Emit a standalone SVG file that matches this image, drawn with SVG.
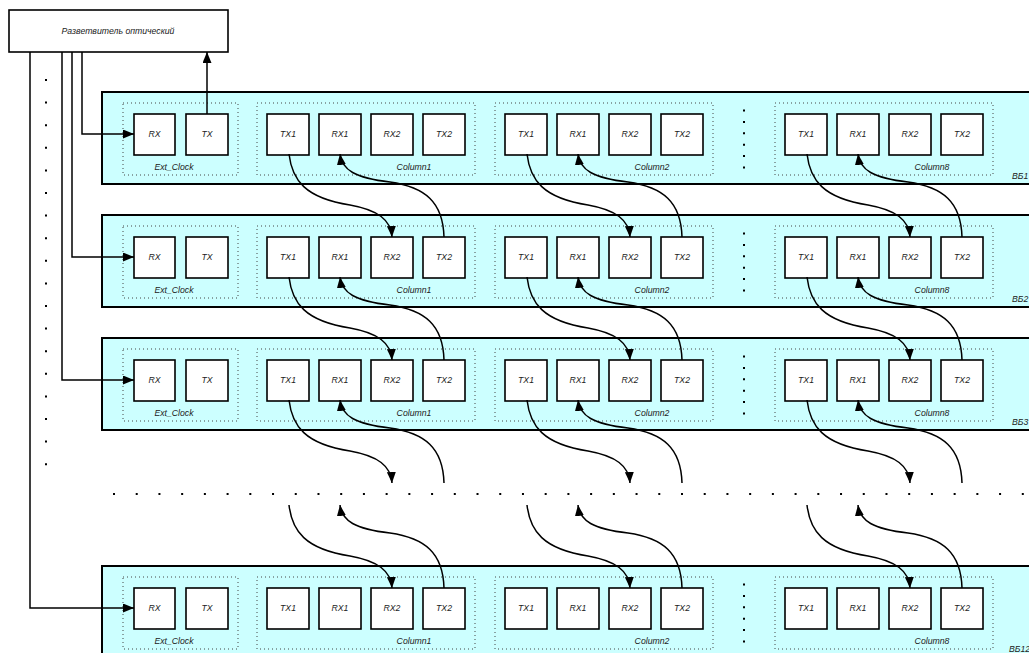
<svg xmlns="http://www.w3.org/2000/svg" width="1029" height="653" viewBox="0 0 1029 653">
<style>
.band{fill:#ccffff;stroke:#000;stroke-width:2}
.grp{fill:none;stroke:#444;stroke-width:1;stroke-dasharray:1 3}
.box{fill:#fff;stroke:#000;stroke-width:1.6}
.split{fill:#fff;stroke:#000;stroke-width:1.6}
text{font-family:"Liberation Sans",Arial,sans-serif;font-style:italic;font-size:8.7px;fill:#222;text-anchor:middle}
.lbl{text-anchor:start}
.con{fill:none;stroke:#000;stroke-width:1.5}
.dots{fill:none;stroke:#000;stroke-width:2}
</style>
<defs>
<marker id="ah" markerUnits="userSpaceOnUse" markerWidth="12" markerHeight="9" refX="11" refY="4.5" orient="auto">
<path d="M0,0 L11,4.5 L0,9 z" fill="#000"/>
</marker>
</defs>
<rect width="1029" height="653" fill="#fff"/>

<g id="splitter">
<rect class="split" x="9" y="10" width="219" height="42"/>
<text x="118" y="34">Разветвитель оптический</text>
</g>

<g id="side-dots">
<line class="dots" x1="46" y1="79" x2="46" y2="466" stroke-dasharray="2 20.6"/>
<line class="dots" x1="113" y1="494" x2="1026" y2="494" stroke-dasharray="2 20.72"/>
</g>

<g id="VB1">
<rect class="band" x="102" y="92" width="940" height="92"/>
<g id="VB1-ext"><rect class="grp" x="123" y="103" width="115" height="72"/>
<rect class="box" x="134" y="114" width="41" height="41"/><text x="154.5" y="137">RX</text>
<rect class="box" x="186" y="114" width="42" height="41"/><text x="207" y="137">TX</text>
<text x="174" y="170">Ext_Clock</text></g>
<g id="VB1-col1"><rect class="grp" x="257" y="103" width="218" height="72"/>
<rect class="box" x="267" y="114" width="42" height="41"/><text x="288" y="137">TX1</text>
<rect class="box" x="319" y="114" width="42" height="41"/><text x="340" y="137">RX1</text>
<rect class="box" x="371" y="114" width="42" height="41"/><text x="392" y="137">RX2</text>
<rect class="box" x="423" y="114" width="42" height="41"/><text x="444" y="137">TX2</text>
<text x="414" y="170">Column1</text></g>
<g id="VB1-col2"><rect class="grp" x="495" y="103" width="218" height="72"/>
<rect class="box" x="505" y="114" width="42" height="41"/><text x="526" y="137">TX1</text>
<rect class="box" x="557" y="114" width="42" height="41"/><text x="578" y="137">RX1</text>
<rect class="box" x="609" y="114" width="42" height="41"/><text x="630" y="137">RX2</text>
<rect class="box" x="661" y="114" width="42" height="41"/><text x="682" y="137">TX2</text>
<text x="652" y="170">Column2</text></g>
<line class="dots" x1="744" y1="109.5" x2="744" y2="169" stroke-dasharray="2 9.4"/>
<g id="VB1-col8"><rect class="grp" x="775" y="103" width="218" height="72"/>
<rect class="box" x="785" y="114" width="42" height="41"/><text x="806" y="137">TX1</text>
<rect class="box" x="837" y="114" width="42" height="41"/><text x="858" y="137">RX1</text>
<rect class="box" x="889" y="114" width="42" height="41"/><text x="910" y="137">RX2</text>
<rect class="box" x="941" y="114" width="42" height="41"/><text x="962" y="137">TX2</text>
<text x="932" y="170">Column8</text></g>
<text class="lbl" x="1012" y="179">ВБ1</text>
</g>

<g id="VB2" transform="translate(0,123)">
<rect class="band" x="102" y="92" width="940" height="92"/>
<g id="VB2-ext"><rect class="grp" x="123" y="103" width="115" height="72"/>
<rect class="box" x="134" y="114" width="41" height="41"/><text x="154.5" y="137">RX</text>
<rect class="box" x="186" y="114" width="42" height="41"/><text x="207" y="137">TX</text>
<text x="174" y="170">Ext_Clock</text></g>
<g id="VB2-col1"><rect class="grp" x="257" y="103" width="218" height="72"/>
<rect class="box" x="267" y="114" width="42" height="41"/><text x="288" y="137">TX1</text>
<rect class="box" x="319" y="114" width="42" height="41"/><text x="340" y="137">RX1</text>
<rect class="box" x="371" y="114" width="42" height="41"/><text x="392" y="137">RX2</text>
<rect class="box" x="423" y="114" width="42" height="41"/><text x="444" y="137">TX2</text>
<text x="414" y="170">Column1</text></g>
<g id="VB2-col2"><rect class="grp" x="495" y="103" width="218" height="72"/>
<rect class="box" x="505" y="114" width="42" height="41"/><text x="526" y="137">TX1</text>
<rect class="box" x="557" y="114" width="42" height="41"/><text x="578" y="137">RX1</text>
<rect class="box" x="609" y="114" width="42" height="41"/><text x="630" y="137">RX2</text>
<rect class="box" x="661" y="114" width="42" height="41"/><text x="682" y="137">TX2</text>
<text x="652" y="170">Column2</text></g>
<line class="dots" x1="744" y1="109.5" x2="744" y2="169" stroke-dasharray="2 9.4"/>
<g id="VB2-col8"><rect class="grp" x="775" y="103" width="218" height="72"/>
<rect class="box" x="785" y="114" width="42" height="41"/><text x="806" y="137">TX1</text>
<rect class="box" x="837" y="114" width="42" height="41"/><text x="858" y="137">RX1</text>
<rect class="box" x="889" y="114" width="42" height="41"/><text x="910" y="137">RX2</text>
<rect class="box" x="941" y="114" width="42" height="41"/><text x="962" y="137">TX2</text>
<text x="932" y="170">Column8</text></g>
<text class="lbl" x="1012" y="179">ВБ2</text>
</g>

<g id="VB3" transform="translate(0,246)">
<rect class="band" x="102" y="92" width="940" height="92"/>
<g id="VB3-ext"><rect class="grp" x="123" y="103" width="115" height="72"/>
<rect class="box" x="134" y="114" width="41" height="41"/><text x="154.5" y="137">RX</text>
<rect class="box" x="186" y="114" width="42" height="41"/><text x="207" y="137">TX</text>
<text x="174" y="170">Ext_Clock</text></g>
<g id="VB3-col1"><rect class="grp" x="257" y="103" width="218" height="72"/>
<rect class="box" x="267" y="114" width="42" height="41"/><text x="288" y="137">TX1</text>
<rect class="box" x="319" y="114" width="42" height="41"/><text x="340" y="137">RX1</text>
<rect class="box" x="371" y="114" width="42" height="41"/><text x="392" y="137">RX2</text>
<rect class="box" x="423" y="114" width="42" height="41"/><text x="444" y="137">TX2</text>
<text x="414" y="170">Column1</text></g>
<g id="VB3-col2"><rect class="grp" x="495" y="103" width="218" height="72"/>
<rect class="box" x="505" y="114" width="42" height="41"/><text x="526" y="137">TX1</text>
<rect class="box" x="557" y="114" width="42" height="41"/><text x="578" y="137">RX1</text>
<rect class="box" x="609" y="114" width="42" height="41"/><text x="630" y="137">RX2</text>
<rect class="box" x="661" y="114" width="42" height="41"/><text x="682" y="137">TX2</text>
<text x="652" y="170">Column2</text></g>
<line class="dots" x1="744" y1="109.5" x2="744" y2="169" stroke-dasharray="2 9.4"/>
<g id="VB3-col8"><rect class="grp" x="775" y="103" width="218" height="72"/>
<rect class="box" x="785" y="114" width="42" height="41"/><text x="806" y="137">TX1</text>
<rect class="box" x="837" y="114" width="42" height="41"/><text x="858" y="137">RX1</text>
<rect class="box" x="889" y="114" width="42" height="41"/><text x="910" y="137">RX2</text>
<rect class="box" x="941" y="114" width="42" height="41"/><text x="962" y="137">TX2</text>
<text x="932" y="170">Column8</text></g>
<text class="lbl" x="1012" y="179">ВБ3</text>
</g>

<g id="VB12" transform="translate(0,474)">
<rect class="band" x="102" y="92" width="940" height="92"/>
<g id="VB12-ext"><rect class="grp" x="123" y="103" width="115" height="72"/>
<rect class="box" x="134" y="114" width="41" height="41"/><text x="154.5" y="137">RX</text>
<rect class="box" x="186" y="114" width="42" height="41"/><text x="207" y="137">TX</text>
<text x="174" y="170">Ext_Clock</text></g>
<g id="VB12-col1"><rect class="grp" x="257" y="103" width="218" height="72"/>
<rect class="box" x="267" y="114" width="42" height="41"/><text x="288" y="137">TX1</text>
<rect class="box" x="319" y="114" width="42" height="41"/><text x="340" y="137">RX1</text>
<rect class="box" x="371" y="114" width="42" height="41"/><text x="392" y="137">RX2</text>
<rect class="box" x="423" y="114" width="42" height="41"/><text x="444" y="137">TX2</text>
<text x="414" y="170">Column1</text></g>
<g id="VB12-col2"><rect class="grp" x="495" y="103" width="218" height="72"/>
<rect class="box" x="505" y="114" width="42" height="41"/><text x="526" y="137">TX1</text>
<rect class="box" x="557" y="114" width="42" height="41"/><text x="578" y="137">RX1</text>
<rect class="box" x="609" y="114" width="42" height="41"/><text x="630" y="137">RX2</text>
<rect class="box" x="661" y="114" width="42" height="41"/><text x="682" y="137">TX2</text>
<text x="652" y="170">Column2</text></g>
<line class="dots" x1="744" y1="109.5" x2="744" y2="169" stroke-dasharray="2 9.4"/>
<g id="VB12-col8"><rect class="grp" x="775" y="103" width="218" height="72"/>
<rect class="box" x="785" y="114" width="42" height="41"/><text x="806" y="137">TX1</text>
<rect class="box" x="837" y="114" width="42" height="41"/><text x="858" y="137">RX1</text>
<rect class="box" x="889" y="114" width="42" height="41"/><text x="910" y="137">RX2</text>
<rect class="box" x="941" y="114" width="42" height="41"/><text x="962" y="137">TX2</text>
<text x="932" y="170">Column8</text></g>
<text class="lbl" x="1009" y="178">ВБ12</text>
</g>

<g id="connectors">
<polyline class="con" points="82,52 82,134 134,134" marker-end="url(#ah)"/>
<polyline class="con" points="72,52 72,257 134,257" marker-end="url(#ah)"/>
<polyline class="con" points="62,52 62,380 134,380" marker-end="url(#ah)"/>
<polyline class="con" points="30,52 30,608 134,608" marker-end="url(#ah)"/>
<line class="con" x1="207" y1="114" x2="207" y2="52" marker-end="url(#ah)"/>

<path class="con" transform="translate(0,0)" d="M289,154 C292,180 305,198 350,205 C378,210 391,220 392,237" marker-end="url(#ah)"/>
<path class="con" transform="translate(0,0)" d="M444,237 C443,202 425,187 390,182 C355,178 342,170 340,154" marker-end="url(#ah)"/>
<path class="con" transform="translate(238,0)" d="M289,154 C292,180 305,198 350,205 C378,210 391,220 392,237" marker-end="url(#ah)"/>
<path class="con" transform="translate(238,0)" d="M444,237 C443,202 425,187 390,182 C355,178 342,170 340,154" marker-end="url(#ah)"/>
<path class="con" transform="translate(518,0)" d="M289,154 C292,180 305,198 350,205 C378,210 391,220 392,237" marker-end="url(#ah)"/>
<path class="con" transform="translate(518,0)" d="M444,237 C443,202 425,187 390,182 C355,178 342,170 340,154" marker-end="url(#ah)"/>

<path class="con" transform="translate(0,123)" d="M289,154 C292,180 305,198 350,205 C378,210 391,220 392,237" marker-end="url(#ah)"/>
<path class="con" transform="translate(0,123)" d="M444,237 C443,202 425,187 390,182 C355,178 342,170 340,154" marker-end="url(#ah)"/>
<path class="con" transform="translate(238,123)" d="M289,154 C292,180 305,198 350,205 C378,210 391,220 392,237" marker-end="url(#ah)"/>
<path class="con" transform="translate(238,123)" d="M444,237 C443,202 425,187 390,182 C355,178 342,170 340,154" marker-end="url(#ah)"/>
<path class="con" transform="translate(518,123)" d="M289,154 C292,180 305,198 350,205 C378,210 391,220 392,237" marker-end="url(#ah)"/>
<path class="con" transform="translate(518,123)" d="M444,237 C443,202 425,187 390,182 C355,178 342,170 340,154" marker-end="url(#ah)"/>

<path class="con" transform="translate(0,246)" d="M289,154 C292,180 305,198 350,205 C378,210 391,220 392,237" marker-end="url(#ah)"/>
<path class="con" transform="translate(0,246)" d="M444,237 C443,202 425,187 390,182 C355,178 342,170 340,154" marker-end="url(#ah)"/>
<path class="con" transform="translate(238,246)" d="M289,154 C292,180 305,198 350,205 C378,210 391,220 392,237" marker-end="url(#ah)"/>
<path class="con" transform="translate(238,246)" d="M444,237 C443,202 425,187 390,182 C355,178 342,170 340,154" marker-end="url(#ah)"/>
<path class="con" transform="translate(518,246)" d="M289,154 C292,180 305,198 350,205 C378,210 391,220 392,237" marker-end="url(#ah)"/>
<path class="con" transform="translate(518,246)" d="M444,237 C443,202 425,187 390,182 C355,178 342,170 340,154" marker-end="url(#ah)"/>

<path class="con" transform="translate(0,351)" d="M289,154 C292,180 305,198 350,205 C378,210 391,220 392,237" marker-end="url(#ah)"/>
<path class="con" transform="translate(0,351)" d="M444,237 C443,202 425,187 390,182 C355,178 342,170 340,154" marker-end="url(#ah)"/>
<path class="con" transform="translate(238,351)" d="M289,154 C292,180 305,198 350,205 C378,210 391,220 392,237" marker-end="url(#ah)"/>
<path class="con" transform="translate(238,351)" d="M444,237 C443,202 425,187 390,182 C355,178 342,170 340,154" marker-end="url(#ah)"/>
<path class="con" transform="translate(518,351)" d="M289,154 C292,180 305,198 350,205 C378,210 391,220 392,237" marker-end="url(#ah)"/>
<path class="con" transform="translate(518,351)" d="M444,237 C443,202 425,187 390,182 C355,178 342,170 340,154" marker-end="url(#ah)"/>
</g>
</svg>
